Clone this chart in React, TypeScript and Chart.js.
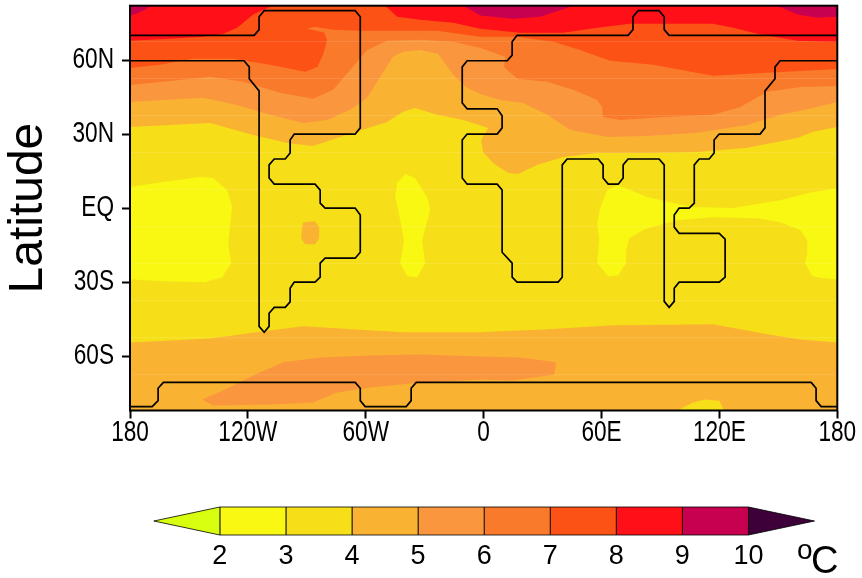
import React, { useEffect, useRef } from "react";
import { Chart, registerables } from "chart.js";

Chart.register(...registerables);

type P = number[];

const xTickValues = [-180, -120, -60, 0, 60, 120, 180];
const xTickLabels = ["180", "120W", "60W", "0", "60E", "120E", "180"];
const yTickValues = [-60, -30, 0, 30, 60];
const yTickLabels = ["60S", "30S", "EQ", "30N", "60N"];
const seamLats = [67.5, 52.5, 37.5, 22.5, 7.5, -7.5, -22.5, -37.5, -52.5, -67.5];
const levels = [2, 3, 4, 5, 6, 7, 8, 9, 10];
const barColors = ["#D8FF0F", "#F8F813", "#F6DF18", "#FAB233", "#FA963E", "#F97A2A", "#FC5215", "#FF0F18", "#C80050", "#3E0038"];

const wholeMap: P[] = [[-180, 82], [180, 82], [180, -82], [-180, -82]];
const yellowLeft: P[] = [[-180, 8.5], [-163.1, 10.6], [-144.3, 12.6], [-137.7, 12.2], [-130.6, 7.3], [-128, 0.4], [-129, -6.9], [-130, -14.2], [-128.5, -22.3], [-133.1, -28], [-141.8, -30], [-163.1, -29.6], [-180, -28.8]];
const yellowMid: P[] = [[-40, 13.8], [-34.9, 12.2], [-28.8, 4.5], [-27.2, -0.8], [-31.3, -13], [-29.8, -22.3], [-33.8, -28], [-38.9, -27.6], [-42.5, -22.3], [-40.5, -13], [-43.5, -0.8], [-45, 4.5], [-44, 10.2]];
const yellowRight: P[] = [[180, 8.1], [167.7, 6.5], [150.9, 3.2], [127, 0], [105.1, 0.4], [83.2, 4.5], [68.5, 9.3], [62.9, 7.3], [59.3, 0], [57.8, -6.1], [58.8, -13], [57.8, -22.3], [63.4, -27.6], [68.5, -27.2], [72.5, -22.3], [72.5, -17.1], [74.1, -12.2], [82.2, -8.5], [98.5, -4.9], [116.8, -3.7], [139.2, -4.1], [150.9, -5.7], [161.1, -8.9], [164.7, -13], [164.7, -18.3], [163.6, -22.3], [167.2, -27.6], [172.8, -28.4], [180, -28.8]];
const north45: P[] = [[-180, 32.9], [-159.6, 33.7], [-139.2, 34.5], [-117.3, 29.6], [-100, 26.4], [-86.8, 25.2], [-66.4, 30.5], [-49.1, 34.9], [-41, 39], [-34.9, 40.6], [-23.7, 37.8], [-10.4, 35.7], [2.3, 32.5], [-1.3, 27.6], [-0.3, 22.7], [4.8, 18.3], [12.5, 14.2], [17.6, 13.8], [27.2, 17.5], [40.5, 20.7], [57.8, 22.3], [83.2, 22.3], [108.7, 22.7], [134.1, 24.4], [159.6, 28.4], [167.7, 30.9], [180, 32.9], [180, 82], [-180, 82]];
const north56: P[] = [[-180, 43], [-163.1, 43.8], [-142.8, 44.7], [-125.5, 41.8], [-108.7, 37.8], [-91.9, 34.5], [-79.7, 35.7], [-68, 39.8], [-59.3, 44.7], [-52.7, 53.2], [-46.1, 61.3], [-41, 63.3], [-32.3, 64.1], [-23.2, 62.5], [-15.5, 54], [-8.4, 48.7], [-1.8, 46.3], [8.4, 43.8], [20.1, 42.6], [32.3, 37.8], [44, 31.7], [62.9, 28.8], [83.2, 29.2], [108.7, 30.5], [134.1, 33.7], [150.9, 37.8], [167.7, 40.6], [180, 43], [180, 82], [-180, 82]];
const north67: P[] = [[-180, 49.9], [-163.1, 51.2], [-139.2, 53.2], [-122.4, 51.2], [-103.6, 46.7], [-86.8, 44.3], [-76.6, 47.9], [-68, 56], [-59.3, 64.1], [-49.1, 67.8], [-32.3, 68.2], [-15.5, 67.4], [-1.8, 65], [10.9, 61.3], [10.4, 57.2], [17.1, 52.4], [32.3, 51.2], [45.6, 47.9], [57.8, 43.8], [60.3, 41], [60.8, 36.9], [69.5, 35.7], [91.4, 36.9], [116.8, 37.8], [130.6, 41], [144.3, 47.1], [161.1, 49.1], [180, 49.5], [180, 82], [-180, 82]];
const north78: P[] = [[-180, 56.8], [-164.7, 58.1], [-147.9, 60.5], [-127.5, 60.5], [-108.7, 58.1], [-90.9, 55.2], [-84.7, 57.2], [-81.7, 62.1], [-79.7, 68.2], [-81.2, 71.1], [-89.8, 72.7], [-86.3, 73.5], [-76.6, 72.3], [-62.9, 71.9], [-44, 71.9], [-23.7, 71.9], [-1.8, 69.4], [17.1, 69.4], [35.4, 67.4], [49.1, 64.1], [64.4, 59.7], [86.3, 58.1], [116.8, 53.6], [144.3, 54.8], [180, 56.4], [180, 82], [-180, 82]];
const north89: P[] = [[-180, 67.8], [-159.6, 68.6], [-142.8, 69.4], [-132.6, 70.6], [-125.5, 73.1], [-117.3, 78.4], [-108.7, 81.6], [-101, 82], [-50.1, 82], [-44, 77.5], [-32.3, 76.3], [-15.5, 75.1], [-1.8, 72.7], [18.6, 71], [40.5, 71], [57.8, 73.1], [74.6, 74.7], [116.8, 74.7], [127, 73.1], [139.2, 70.6], [159.6, 67.8], [180, 67.4], [180, 82], [-180, 82]];
const purpleLeft: P[] = [[-180, 82], [-180, 78], [-176.4, 78.8], [-172.3, 80.4], [-169.8, 82]];
const purpleMid: P[] = [[-10.4, 82], [-5.3, 79.6], [-1.8, 78], [15, 76.7], [28.8, 77.5], [45.6, 82]];
const purpleRight: P[] = [[149.4, 82], [159.6, 78.4], [169.8, 77.1], [180, 77.5], [180, 82]];
const south45: P[] = [[-180, -54.4], [-159.6, -53.6], [-139.2, -52.8], [-127.5, -51.6], [-112.2, -49.9], [-91.9, -47.9], [-66.4, -49.1], [-41, -50.3], [-1.8, -50.3], [32.3, -49.1], [65.9, -47.5], [116.8, -47.1], [142.3, -50.8], [161.1, -53.2], [180, -54.4], [180, -82], [-180, -82]];
const southHill34: P[] = [[98.5, -82], [106.6, -78.8], [112.8, -77.5], [119.9, -78], [122.4, -82]];
const south56: P[] = [[-143.3, -77.5], [-132.6, -73.9], [-117.3, -67.8], [-102, -62.5], [-83.2, -60.5], [-57.8, -59.7], [-32.3, -59.3], [-1.8, -60.1], [18.6, -60.5], [36.9, -62.5], [35.9, -67.4], [15, -69.8], [-1.8, -69.4], [-35.9, -71], [-57.8, -72.7], [-74.6, -74.7], [-86.8, -78.8], [-108.7, -79.6], [-137.7, -80]];
const blob45: P[] = [[-91.9, -5.7], [-85.8, -5.3], [-83.7, -7.7], [-83.7, -12.2], [-85.8, -14.6], [-90.9, -14.6], [-92.9, -12.2], [-92.4, -8.1]];

const coastAmericas: P[] = [[-180, 70], [-116.8, 70], [-114.3, 72.3], [-114.3, 77.5], [-111.7, 80], [-65.4, 80], [-62.8, 77.5], [-62.8, 32.5], [-65.4, 30], [-96.4, 30], [-98.5, 27.6], [-98.5, 22.3], [-101, 19.9], [-106.6, 19.9], [-109.2, 17.5], [-109.2, 12.2], [-106.6, 9.7], [-85.8, 9.7], [-83.2, 7.3], [-83.2, 2], [-80.7, 0], [-65.4, 0], [-62.8, -2.8], [-62.8, -17.9], [-65.4, -20.3], [-80.7, -20.3], [-83.2, -22.3], [-83.2, -28], [-85.8, -30], [-96.4, -30], [-98.5, -32.5], [-98.5, -38], [-101, -40.2], [-106.6, -40.2], [-109.2, -42.6], [-109.2, -47.9], [-111.7, -50.3], [-114.3, -47.9], [-114.3, 47.5], [-119.3, 52.4], [-119.3, 57.2], [-122, 59.7], [-180, 59.7]];
const coastEurasia: P[] = [[180, 70], [94.4, 70], [91.9, 72.3], [91.9, 77.5], [89.3, 80], [78.6, 80], [76, 77.5], [76, 72.3], [73.5, 70], [17, 70], [14.5, 67.4], [14.5, 62], [12, 59.7], [-8.4, 59.7], [-10.9, 57.2], [-10.9, 42.6], [-8.4, 40.2], [6.9, 40.2], [9.4, 37.4], [9.4, 32.5], [6.9, 30], [-8.4, 30], [-10.9, 27.6], [-10.9, 12.2], [-8.4, 9.7], [6.9, 9.7], [9.4, 7.3], [9.4, -17.9], [14.5, -22.3], [14.5, -28], [17, -30], [37.9, -30], [40, -28], [40, 17.5], [42.5, 19.9], [58.3, 19.9], [60.8, 17.5], [60.8, 12.2], [63.4, 9.7], [68.5, 9.7], [71, 12.2], [71, 17.5], [73.5, 19.9], [89.3, 19.9], [91.9, 17.5], [91.9, -37.8], [94.4, -40.2], [97, -37.8], [97, -32.5], [99.5, -30], [119.9, -30], [122.9, -28], [122.9, -12.6], [119.9, -10.2], [99.5, -10.2], [97, -7.7], [97, -2.8], [99.5, 0], [104.6, 0], [107.2, 2], [107.2, 17.5], [109.7, 19.9], [114.8, 19.9], [117.3, 22.3], [117.3, 27.6], [119.9, 30], [140.7, 30], [143.2, 32.5], [143.2, 47.5], [148.3, 52.4], [148.3, 57.2], [150.9, 59.7], [180, 59.7]];
const coastAntarctica: P[] = [[-180, -80.4], [-168.7, -80.4], [-165.7, -78], [-165.7, -73], [-163, -70.6], [-65.4, -70.6], [-62.8, -73], [-62.8, -78], [-60.3, -80.4], [-39.4, -80.4], [-36.9, -78], [-36.9, -73], [-34.3, -70.6], [166.7, -70.6], [169.2, -73], [169.2, -78], [171.8, -80.4], [180, -80.4]];

const toXY = (pts: P[]) => pts.map(([x, y]) => ({ x, y }));

const polygonPlugin = {
  id: "polygonFill",
  beforeDatasetDraw(chart: any, args: any) {
    const ds = chart.data.datasets[args.index];
    if (!ds.polygonColor) return;
    const pts = args.meta.data;
    const ctx = chart.ctx;
    ctx.save();
    ctx.beginPath();
    pts.forEach((p: any, i: number) => (i ? ctx.lineTo(p.x, p.y) : ctx.moveTo(p.x, p.y)));
    ctx.closePath();
    ctx.fillStyle = ds.polygonColor;
    ctx.fill();
    if (ds.polygonStroke) {
      ctx.lineWidth = 0.8;
      ctx.strokeStyle = ds.polygonStroke;
      ctx.stroke();
    }
    ctx.restore();
  },
};

const framePlugin = {
  id: "frame",
  afterDatasetsDraw(chart: any) {
    const { ctx, chartArea: a } = chart;
    ctx.save();
    ctx.lineWidth = 2;
    ctx.strokeStyle = "#000";
    ctx.strokeRect(a.left, a.top, a.right - a.left, a.bottom - a.top);
    ctx.restore();
  },
};

// The reference's tick lettering is tall and narrow, and no condensed face is installed,
// so the axis labels are drawn squeezed horizontally around their own anchor.
const tickSqueeze = 0.78;
const narrowTicksPlugin = {
  id: "narrowTicks",
  beforeDraw(chart: any) {
    const ctx = chart.ctx;
    if (ctx.__narrow) return;
    ctx.__narrow = true;
    const names = new Set([...xTickLabels, ...yTickLabels]);
    const fill = ctx.fillText.bind(ctx);
    ctx.fillText = (text: string, x: number, y: number, max?: number) => {
      if (!names.has(text)) return fill(text, x, y, max);
      ctx.save();
      ctx.translate(x, y);
      ctx.scale(tickSqueeze, 1);
      fill(text, 0, 0);
      ctx.restore();
    };
  },
};

const polygon = (pts: P[], color: string, stroke?: string) => ({
  type: "scatter",
  data: toXY(pts),
  polygonColor: color,
  polygonStroke: stroke,
  showLine: false,
  pointRadius: 0,
  pointHoverRadius: 0,
});

const line = (pts: P[], color: string, width: number) => ({
  type: "scatter",
  data: toXY(pts),
  showLine: true,
  fill: false,
  tension: 0,
  borderColor: color,
  borderWidth: width,
  pointRadius: 0,
});

const tickFont = { family: "'Liberation Sans'", size: 29, lineHeight: 1 };

export default function App() {
  const mapRef = useRef<HTMLCanvasElement>(null);
  const barRef = useRef<HTMLCanvasElement>(null);

  useEffect(() => {
    const [c0, c1, c2, c3, c4, c5, c6, c7, c8, c9] = barColors;
    const layers: any[] = [
      polygon(wholeMap, c2),
      polygon(yellowLeft, c1),
      polygon(yellowMid, c1),
      polygon(yellowRight, c1),
      polygon(north45, c3),
      polygon(blob45, c3),
      polygon(south45, c3),
      polygon(southHill34, c2),
      polygon(south56, c4),
      polygon(north56, c4),
      polygon(north67, c5),
      polygon(north78, c6),
      polygon(north89, c7),
      polygon(purpleLeft, c8),
      polygon(purpleMid, c8),
      polygon(purpleRight, c8),
      ...seamLats.map((lat) => line([[-180, lat], [180, lat]], "rgba(255,255,255,0.13)", 1)),
      line(coastAmericas, "#000", 1.7),
      line(coastEurasia, "#000", 1.7),
      line(coastAntarctica, "#000", 1.7),
    ];
    layers.forEach((l, i) => (l.order = layers.length - i));

    const map = new Chart(mapRef.current as any, {
      type: "scatter",
      data: { datasets: layers },
      plugins: [polygonPlugin, framePlugin, narrowTicksPlugin],
      options: {
        animation: false,
        responsive: false,
        events: [],
        layout: { padding: { top: 5.7, right: 24.7, left: 0, bottom: 0 } },
        plugins: { legend: { display: false }, tooltip: { enabled: false } },
        scales: {
          x: {
            type: "linear",
            min: -180,
            max: 180,
            afterBuildTicks: (s: any) => { s.ticks = xTickValues.map((value) => ({ value })); },
            afterFit: (s: any) => { s.height = 84.5; s.paddingLeft = 0; s.paddingRight = 0; },
            grid: { drawOnChartArea: false, tickLength: 8, tickWidth: 2, tickColor: "#000" },
            border: { display: false },
            ticks: {
              autoSkip: false,
              maxRotation: 0,
              padding: 0,
              color: "#000",
              font: tickFont,
              callback: (v: any) => xTickLabels[xTickValues.indexOf(v)],
            },
          },
          y: {
            type: "linear",
            min: -82,
            max: 82,
            afterBuildTicks: (s: any) => { s.ticks = yTickValues.map((value) => ({ value })); },
            afterFit: (s: any) => { s.width = 130; s.paddingTop = 0; s.paddingBottom = 0; },
            grid: { drawOnChartArea: false, tickLength: 8, tickWidth: 2, tickColor: "#000" },
            border: { display: false },
            title: {
              display: true,
              text: "Latitude",
              color: "#000",
              font: { family: "'Liberation Sans'", size: 48, lineHeight: 1 },
              padding: { top: 5, bottom: 0 },
            },
            ticks: {
              autoSkip: false,
              padding: 8,
              color: "#000",
              font: tickFont,
              callback: (v: any) => yTickLabels[yTickValues.indexOf(v)],
            },
          },
        },
      } as any,
    } as any);

    const lo = levels[0] - 1;
    const hi = levels[levels.length - 1] + 1;
    const stroke = "#000";
    const barLayers: any[] = [
      polygon([[lo, 0.5], [levels[0], 1], [levels[0], 0]], c0, stroke),
      ...levels.slice(0, -1).map((v, i) =>
        polygon([[v, 0], [v + 1, 0], [v + 1, 1], [v, 1]], barColors[i + 1], stroke)
      ),
      polygon([[hi, 0.5], [levels[levels.length - 1], 1], [levels[levels.length - 1], 0]], c9, stroke),
    ];

    const bar = new Chart(barRef.current as any, {
      type: "scatter",
      data: { datasets: barLayers },
      plugins: [polygonPlugin],
      options: {
        animation: false,
        responsive: false,
        events: [],
        layout: { padding: { top: 12, right: 47.5, left: 153.8, bottom: 0 } },
        plugins: { legend: { display: false }, tooltip: { enabled: false } },
        scales: {
          x: {
            type: "linear",
            min: lo,
            max: hi,
            afterBuildTicks: (s: any) => { s.ticks = levels.map((value) => ({ value })); },
            afterFit: (s: any) => { s.height = 43; s.paddingLeft = 0; s.paddingRight = 0; },
            grid: { display: false, drawTicks: false },
            border: { display: false },
            ticks: {
              autoSkip: false,
              maxRotation: 0,
              padding: 5,
              color: "#000",
              font: { family: "'Liberation Sans'", size: 27 },
            },
          },
          y: { type: "linear", min: 0, max: 1, display: false },
        },
      } as any,
    } as any);

    return () => {
      map.destroy();
      bar.destroy();
    };
  }, []);

  return (
    <div style={{ position: "fixed", left: 0, top: 0, width: 862, height: 578, background: "#fff", overflow: "hidden" }}>
      <canvas ref={mapRef} width={862} height={495} style={{ position: "absolute", left: 0, top: 0 }} />
      <canvas ref={barRef} width={862} height={83} style={{ position: "absolute", left: 0, top: 495 }} />
      <span style={{ position: "absolute", left: 797, top: 534, font: "28px 'Liberation Sans'", color: "#000" }}>o</span>
      <span style={{ position: "absolute", left: 811, top: 539, font: "38px 'Liberation Sans'", color: "#000" }}>C</span>
    </div>
  );
}
